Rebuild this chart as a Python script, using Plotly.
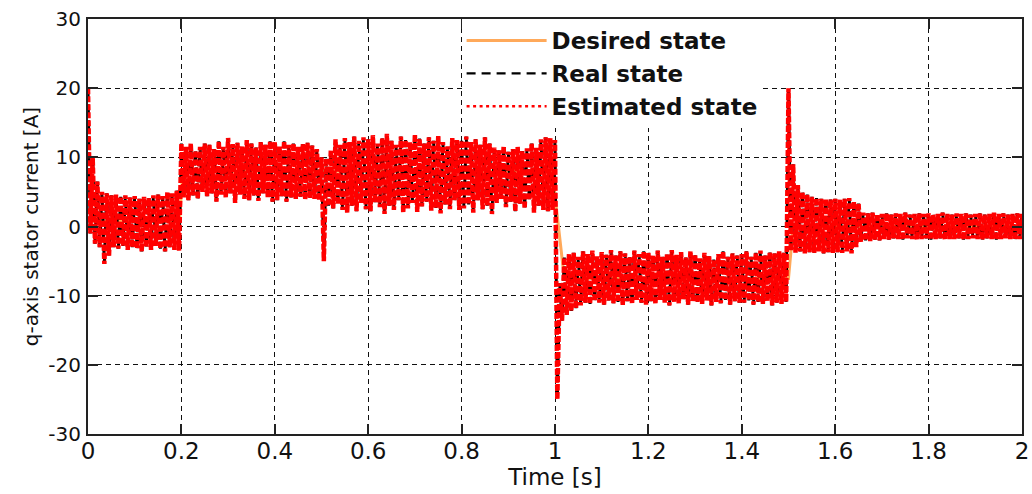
import numpy as np
import plotly.graph_objects as go

# Sampling instants of the envelope readings [s]
t_step = 0.01
sample_t = np.round(np.arange(0, 2.0 + t_step / 2, t_step), 2)

# Upper envelope of the q-axis current oscillation [A], one value per sample
upper = [
    20, 10, 6.5, 5.0, 4.8, 4.5, 4.6, 4.3, 4.5, 4.2,
    4.4, 4.0, 4.3, 4.1, 4.5, 4.6, 4.4, 5.0, 4.8, 5.2,
    12.0, 11.5, 12.0, 11.0, 11.5, 12.0, 11.8, 11.2, 12.3, 11.5,
    12.8, 11.9, 12.1, 11.6, 12.5, 12.0, 11.4, 12.2, 11.8, 12.3,
    12.2, 11.6, 12.3, 11.8, 12.0, 11.5, 11.9, 12.1, 11.7, 11.2,
    10.0, 9.8, 11.0, 12.6, 11.8, 12.8, 12.2, 13.0, 12.4, 12.9,
    12.6, 13.2, 12.0, 12.8, 13.4, 12.4, 11.8, 13.0, 12.5, 12.2,
    13.3, 12.7, 12.0, 12.9, 12.4, 13.1, 12.2, 11.6, 12.8, 12.5,
    12.4, 13.0, 12.2, 12.6, 11.8, 12.9, 12.0, 11.4, 11.0, 11.6,
    10.8, 11.2, 11.5, 10.9, 11.3, 12.0, 11.4, 12.6, 12.9, 12.8,
    12.5, -8.2, -4.5, -4.0, -3.8, -4.4, -3.6, -4.0, -3.5, -4.3,
    -3.7, -4.1, -3.4, -4.2, -3.6, -3.9, -4.4, -3.5, -4.0, -3.6,
    -3.8, -4.2, -3.5, -4.4, -3.9, -3.4, -4.1, -3.7, -4.5, -3.6,
    -4.0, -4.6, -3.8, -4.3, -4.8, -4.0, -3.6, -4.4, -3.9, -4.2,
    -4.0, -3.6, -4.4, -3.8, -3.5, -4.2, -3.7, -3.9, -3.6, -3.8,
    20.0, 9.0, 6.0, 5.0, 4.6, 4.3, 4.1, 4.0, 4.0, 3.9,
    4.0, 3.9, 4.0, 4.1, 3.6, 3.3, 2.0, 1.9, 2.0, 1.8,
    1.8, 1.9, 1.7, 1.9, 1.8, 2.0, 1.7, 1.8, 1.9, 1.8,
    1.9, 1.7, 1.8, 2.0, 1.8, 1.7, 1.9, 1.8, 1.9, 1.7,
    1.8, 1.9, 1.7, 1.8, 2.0, 1.8, 1.9, 1.7, 1.8, 1.9, 1.8,
]

# Lower envelope of the q-axis current oscillation [A], one value per sample
lower = [
    -1.0, -2.5, -3.0, -5.4, -4.2, -3.0, -3.2, -2.8, -3.4, -3.0,
    -3.2, -3.6, -3.0, -3.4, -2.8, -3.2, -3.6, -3.0, -3.4, -3.5,
    4.2, 3.8, 4.5, 4.0, 5.0, 4.4, 4.8, 3.6, 4.6, 4.2,
    4.8, 3.4, 4.6, 4.0, 3.8, 4.5, 3.7, 4.8, 4.2, 3.6,
    3.8, 4.4, 3.6, 4.2, 4.0, 4.3, 3.9, 4.1, 4.0, 3.8,
    -5.0, 3.0, 2.6, 3.2, 2.4, 2.0, 3.0, 2.2, 3.4, 2.5,
    2.2, 3.5, 2.8, 1.8, 3.0, 2.4, 3.8, 2.0, 2.6, 3.4,
    2.1, 2.9, 3.6, 2.3, 2.7, 1.9, 3.2, 2.5, 3.8, 2.4,
    2.6, 3.2, 2.0, 3.8, 2.5, 3.0, 1.8, 3.4, 4.0, 2.8,
    3.6, 2.2, 3.3, 2.6, 3.8, 2.0, 3.0, 2.4, 2.2, 2.4,
    -25.0, -13.6, -12.8, -12.2, -11.8, -11.4, -11.0, -11.2, -10.8, -11.0,
    -11.3, -10.7, -11.1, -10.9, -11.4, -10.8, -11.2, -10.6, -11.0, -11.3,
    -10.8, -11.2, -10.6, -11.0, -11.4, -10.9, -11.1, -10.5, -11.3, -10.8,
    -11.0, -11.2, -10.7, -11.4, -10.9, -11.1, -10.6, -11.3, -10.8, -11.0,
    -11.0, -10.7, -11.3, -10.9, -11.2, -10.8, -11.4, -11.0, -11.2, -10.9,
    -3.5, -3.8, -3.6, -3.9, -3.7, -3.8, -3.6, -3.9, -3.7, -3.8,
    -3.7, -3.8, -3.6, -3.9, -3.0, -2.2, -2.0, -2.1, -1.9, -2.0,
    -1.8, -1.9, -1.7, -1.8, -1.9, -1.7, -1.8, -1.9, -1.8, -1.7,
    -1.9, -1.8, -1.7, -1.9, -1.8, -1.8, -1.7, -1.9, -1.8, -1.7,
    -1.8, -1.9, -1.7, -1.8, -1.9, -1.8, -1.7, -1.8, -1.9, -1.8, -1.8,
]

# Desired (reference) q-axis current trajectory
desired_t = [0.0, 0.196, 0.203, 0.994, 1.02, 1.5, 1.51, 2.0]
desired_v = [0.8, 0.8, 8.0, 8.0, -7.5, -7.5, 0.0, 0.0]

# Axis ticks
x_ticks = [0, 0.2, 0.4, 0.6, 0.8, 1.0, 1.2, 1.4, 1.6, 1.8, 2.0]
x_tick_text = ["0", "0.2", "0.4", "0.6", "0.8", "1", "1.2", "1.4", "1.6", "1.8", "2"]
y_ticks = [-30, -20, -10, 0, 10, 20, 30]
y_tick_text = ["-30", "-20", "-10", "0", "10", "20", "30"]

# The switching ripple alternates between the envelopes: peak at each
# sample instant, trough half a step later.
ripple_t = np.empty(2 * len(sample_t))
ripple_t[0::2] = sample_t
ripple_t[1::2] = sample_t + t_step / 2
ripple_v = np.empty(2 * len(sample_t))
ripple_v[0::2] = upper
ripple_v[1::2] = lower

FONT = "DejaVu Sans, Liberation Sans, Arial, sans-serif"
INK = "#111111"

# Line styles: the curves are drawn heavier so the dense ripple reads as a band,
# the legend keys use the thin line styles.
DESIRED = dict(color="#FFA95A", width=3)
REAL_KEY = dict(color="#000000", width=2.2, dash="9px,6px")
EST_KEY = dict(color="#FF0000", width=2.5, dash="3px,3.5px")

fig = go.Figure()
fig.add_trace(go.Scatter(
    x=desired_t, y=desired_v, mode="lines", name="Desired state", line=DESIRED,
))
fig.add_trace(go.Scatter(
    x=ripple_t, y=ripple_v, mode="lines", name="Real state", showlegend=False,
    legendgroup="real",
    line=dict(color="#000000", width=3, dash="10px,6px", simplify=False),
))
fig.add_trace(go.Scatter(
    x=ripple_t, y=ripple_v, mode="lines", name="Estimated state", showlegend=False,
    legendgroup="est",
    line=dict(color="#FF0000", width=4.5, dash="6px,2px", simplify=False),
))
# Legend keys
fig.add_trace(go.Scatter(
    x=[None], y=[None], mode="lines", name="Real state", legendgroup="real", line=REAL_KEY,
))
fig.add_trace(go.Scatter(
    x=[None], y=[None], mode="lines", name="Estimated state", legendgroup="est", line=EST_KEY,
))

axis_style = dict(
    showline=True, linecolor="#222222", linewidth=2, mirror="allticks",
    ticks="inside", ticklen=10, tickwidth=1.5, tickcolor="#222222",
    zeroline=False,
    showgrid=True, gridcolor="#111111", gridwidth=1.3, griddash="5px,4px",
)

fig.update_xaxes(
    range=[0, 2], tickvals=x_ticks, ticktext=x_tick_text,
    tickfont=dict(family=FONT, size=23, color=INK),
    ticklabelstandoff=-5,
    title=dict(text="Time [s]", font=dict(family=FONT, size=23, color=INK), standoff=0),
    **axis_style,
)
fig.update_yaxes(
    range=[-30, 30], tickvals=y_ticks, ticktext=y_tick_text,
    tickfont=dict(family=FONT, size=20, color=INK),
    ticklabelstandoff=1,
    title=dict(text="q-axis stator current [A]", font=dict(family=FONT, size=20, color=INK), standoff=4),
    **axis_style,
)

fig.update_layout(
    width=1032, height=494,
    margin=dict(l=88, r=10, t=19, b=60, autoexpand=False),
    paper_bgcolor="white", plot_bgcolor="white",
    legend=dict(
        x=0.40, y=1.0, xanchor="left", yanchor="top",
        bgcolor="white", borderwidth=0,
        font=dict(family=FONT, size=23, color=INK, weight="bold"),
        itemwidth=80, tracegroupgap=0, traceorder="normal",
    ),
)

fig.write_html("out.html")
